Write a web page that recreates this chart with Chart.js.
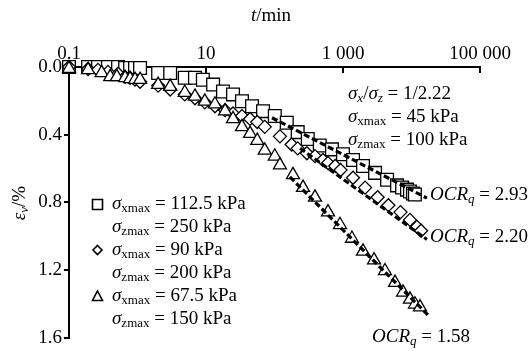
<!DOCTYPE html>
<html>
<head>
<meta charset="utf-8">
<script src="https://cdn.jsdelivr.net/npm/chart.js@4.4.0/dist/chart.umd.min.js"></script>
<style>
    html, body { margin: 0; padding: 0; background: #fff; }
</style>
</head>
<body>
<canvas id="strain-chart" width="532" height="351"></canvas>
<script>
// creep curves, t (min) vs vertical strain (%)

const xTickValues = [0.1, 10, 1000, 100000];
const xTickLabels = ['0.1', '10', '1 000', '100 000'];
const yTickValues = [0, 0.4, 0.8, 1.2, 1.6];

// sigma_xmax = 112.5 kPa (squares)
const timeSquare = [0.1, 0.19, 0.265, 0.37, 0.52, 0.66, 0.78, 0.92, 1.09, 2.0, 3.0, 4.9, 6.9, 9.0, 12.7, 17.7, 24.8, 33.5, 47, 68, 101, 151, 218, 306, 458, 690, 1000, 1400, 1960, 2940, 4400, 6150, 7300, 8600, 9500, 10500, 11200];
const strainSquare = [0, 0, 0, 0, 0, 0.006, 0.006, 0.006, 0.006, 0.035, 0.035, 0.064, 0.064, 0.075, 0.104, 0.145, 0.162, 0.203, 0.232, 0.261, 0.29, 0.33, 0.385, 0.426, 0.464, 0.487, 0.516, 0.55, 0.585, 0.626, 0.667, 0.70, 0.713, 0.725, 0.736, 0.748, 0.754];

// sigma_xmax = 90 kPa (diamonds)
const timeDiamond = [0.1, 0.19, 0.265, 0.37, 0.52, 0.66, 0.78, 0.92, 1.09, 2.0, 3.0, 4.9, 6.9, 9.6, 13.5, 19, 24.8, 33.5, 44, 56, 72, 120, 178, 218, 297, 390, 510, 605, 770, 920, 1400, 2100, 3200, 4600, 6900, 9500, 12000, 13800];
const strainDiamond = [0, 0.012, 0.017, 0.029, 0.04, 0.058, 0.064, 0.075, 0.087, 0.11, 0.133, 0.162, 0.185, 0.209, 0.232, 0.255, 0.275, 0.29, 0.307, 0.325, 0.354, 0.41, 0.458, 0.481, 0.51, 0.527, 0.55, 0.568, 0.585, 0.609, 0.655, 0.713, 0.77, 0.817, 0.858, 0.904, 0.945, 0.968];

// sigma_xmax = 67.5 kPa (triangles)
const timeTriangle = [0.1, 0.19, 0.30, 0.40, 0.50, 0.66, 0.78, 0.92, 1.09, 2.0, 3.0, 4.9, 6.9, 9.6, 13.5, 19, 24.8, 33.5, 44, 56, 72, 101, 120, 186, 261, 390, 604, 904, 1350, 1960, 2840, 4100, 5740, 7520, 9500, 11250, 13300];
const strainTriangle = [0.01, 0.017, 0.035, 0.058, 0.058, 0.064, 0.07, 0.075, 0.075, 0.104, 0.116, 0.151, 0.174, 0.203, 0.22, 0.261, 0.307, 0.354, 0.394, 0.435, 0.493, 0.528, 0.58, 0.638, 0.713, 0.771, 0.858, 0.933, 1.014, 1.09, 1.142, 1.206, 1.275, 1.333, 1.374, 1.403, 1.42];

// secondary compression fit lines (start, end)
const fitTimeSquare = [92, 16800];
const fitStrainSquare = [0.30, 0.775];
const fitTimeDiamond = [236, 16800];
const fitStrainDiamond = [0.48, 1.02];
const fitTimeTriangle = [168, 18600];
const fitStrainTriangle = [0.65, 1.478];

const FONT = '"Liberation Serif", "Times New Roman", serif';
const FS = 19;

const toPoints = (ts, vs) => ts.map((t, i) => ({ x: t, y: vs[i] }));

function markerSet(label, ts, vs, style, radius) {
    return {
        label: label,
        data: toPoints(ts, vs),
        showLine: false,
        pointStyle: style,
        pointRadius: radius,
        pointHoverRadius: radius,
        pointBackgroundColor: '#fff',
        pointBorderColor: '#000',
        pointBorderWidth: 1.3,
        clip: false
    };
}

function fitSet(label, ts, vs) {
    return {
        label: label,
        data: toPoints(ts, vs),
        showLine: true,
        borderColor: '#000',
        borderWidth: 3.2,
        borderDash: [6, 3],
        pointRadius: 0,
        fill: false,
        clip: false
    };
}

// rich text: parts = [[text, style]], style: 'n' normal, 'i' italic, 's' subscript
function richWidth(ctx, parts, size) {
    let w = 0;
    parts.forEach(([text, style]) => {
        const sub = style.includes('s');
        const fs = sub ? Math.round(size * 0.68) : size;
        ctx.font = (style.includes('i') ? 'italic ' : '') + fs + 'px ' + FONT;
        w += ctx.measureText(text).width;
    });
    return w;
}

function drawRich(ctx, x, y, parts, size) {
    let cx = x;
    ctx.textAlign = 'left';
    ctx.textBaseline = 'middle';
    parts.forEach(([text, style]) => {
        const sub = style.includes('s');
        const fs = sub ? Math.round(size * 0.68) : size;
        ctx.font = (style.includes('i') ? 'italic ' : '') + fs + 'px ' + FONT;
        ctx.fillText(text, cx, sub ? y + size * 0.22 : y);
        cx += ctx.measureText(text).width;
    });
}

const sxmax = (v) => [['σ', 'i'], ['xmax', 's'], [' = ' + v + ' kPa', 'n']];
const szmax = (v) => [['σ', 'i'], ['zmax', 's'], [' = ' + v + ' kPa', 'n']];
const ocr = (v) => [['OCR', 'i'], ['q', 'si'], [' = ' + v, 'n']];

const annotations = [
    { x: 348, y: 94, parts: [['σ', 'i'], ['x', 'si'], ['/', 'n'], ['σ', 'i'], ['z', 'si'], [' = 1/2.22', 'n']] },
    { x: 348, y: 117, parts: sxmax('45') },
    { x: 348, y: 140, parts: szmax('100') },
    { x: 430, y: 195, parts: ocr('2.93') },
    { x: 430, y: 237, parts: ocr('2.20') },
    { x: 372, y: 337, parts: ocr('1.58') },
    { x: 112, y: 204, parts: sxmax('112.5') },
    { x: 112, y: 227, parts: szmax('250') },
    { x: 112, y: 250, parts: sxmax('90') },
    { x: 112, y: 273, parts: szmax('200') },
    { x: 112, y: 296, parts: sxmax('67.5') },
    { x: 112, y: 319, parts: szmax('150') }
];

const textPlugin = {
    id: 'textPlugin',
    afterDraw(chart) {
        const ctx = chart.ctx;
        const xs = chart.scales.x;
        ctx.save();
        ctx.fillStyle = '#000';
        ctx.strokeStyle = '#000';

        // inward ticks on top axis
        ctx.lineWidth = 2;
        xTickValues.slice(1).forEach(v => {
            const px = Math.round(xs.getPixelForValue(v));
            ctx.beginPath();
            ctx.moveTo(px, chart.chartArea.top);
            ctx.lineTo(px, chart.chartArea.top + 6);
            ctx.stroke();
        });

        // axis titles
        const tParts = [['t', 'i'], ['/min', 'n']];
        drawRich(ctx, 271 - richWidth(ctx, tParts, FS) / 2, 16, tParts, FS);
        const eParts = [['ε', 'i'], ['v', 'si'], ['/%', 'n']];
        ctx.save();
        ctx.translate(20, 203);
        ctx.rotate(-Math.PI / 2);
        drawRich(ctx, -richWidth(ctx, eParts, FS) / 2, 0, eParts, FS);
        ctx.restore();

        annotations.forEach(a => drawRich(ctx, a.x, a.y, a.parts, FS));

        // legend symbols
        ctx.lineWidth = 1.6;
        ctx.beginPath();
        ctx.rect(92.5, 199.5, 10, 10);
        ctx.stroke();
        ctx.beginPath();
        ctx.moveTo(97.5, 245.5);
        ctx.lineTo(102, 250);
        ctx.lineTo(97.5, 254.5);
        ctx.lineTo(93, 250);
        ctx.closePath();
        ctx.stroke();
        ctx.beginPath();
        ctx.moveTo(97.5, 291);
        ctx.lineTo(102.5, 300.5);
        ctx.lineTo(92.5, 300.5);
        ctx.closePath();
        ctx.stroke();
        ctx.restore();
    }
};

const ctx = document.getElementById('strain-chart').getContext('2d');

const chart = new Chart(ctx, {
    type: 'scatter',
    data: {
        datasets: [
            fitSet('fit 112.5', fitTimeSquare, fitStrainSquare),
            fitSet('fit 90', fitTimeDiamond, fitStrainDiamond),
            fitSet('fit 67.5', fitTimeTriangle, fitStrainTriangle),
            markerSet('67.5 kPa', timeTriangle, strainTriangle, 'triangle', 7.5),
            markerSet('90 kPa', timeDiamond, strainDiamond, 'rectRot', 6.5),
            markerSet('112.5 kPa', timeSquare, strainSquare, 'rect', 9)
        ]
    },
    options: {
        responsive: false,
        animation: false,
        devicePixelRatio: 1,
        layout: { padding: { left: 0, right: 52, top: 0, bottom: 8 } },
        plugins: {
            legend: { display: false },
            tooltip: { enabled: false }
        },
        scales: {
            x: {
                type: 'logarithmic',
                position: 'top',
                min: 0.1,
                max: 100000,
                afterBuildTicks: axis => { axis.ticks = xTickValues.map(v => ({ value: v })); },
                afterFit: axis => { axis.height = 67; },
                ticks: {
                    autoSkip: false,
                    maxRotation: 0,
                    padding: -6,
                    color: '#000',
                    font: { family: FONT, size: FS },
                    callback: (v, i) => xTickLabels[i]
                },
                grid: { display: false },
                border: { display: true, color: '#000', width: 2 }
            },
            y: {
                type: 'linear',
                position: 'left',
                reverse: true,
                min: 0,
                max: 1.6,
                afterBuildTicks: axis => { axis.ticks = yTickValues.map(v => ({ value: v })); },
                afterFit: axis => { axis.width = 69; },
                ticks: {
                    padding: 2,
                    color: '#000',
                    font: { family: FONT, size: FS },
                    callback: v => v.toFixed(1)
                },
                grid: { drawOnChartArea: false, tickLength: 5, color: '#000', lineWidth: 2 },
                border: { display: true, color: '#000', width: 2 }
            }
        }
    },
    plugins: [textPlugin]
});
</script>
</body>
</html>
